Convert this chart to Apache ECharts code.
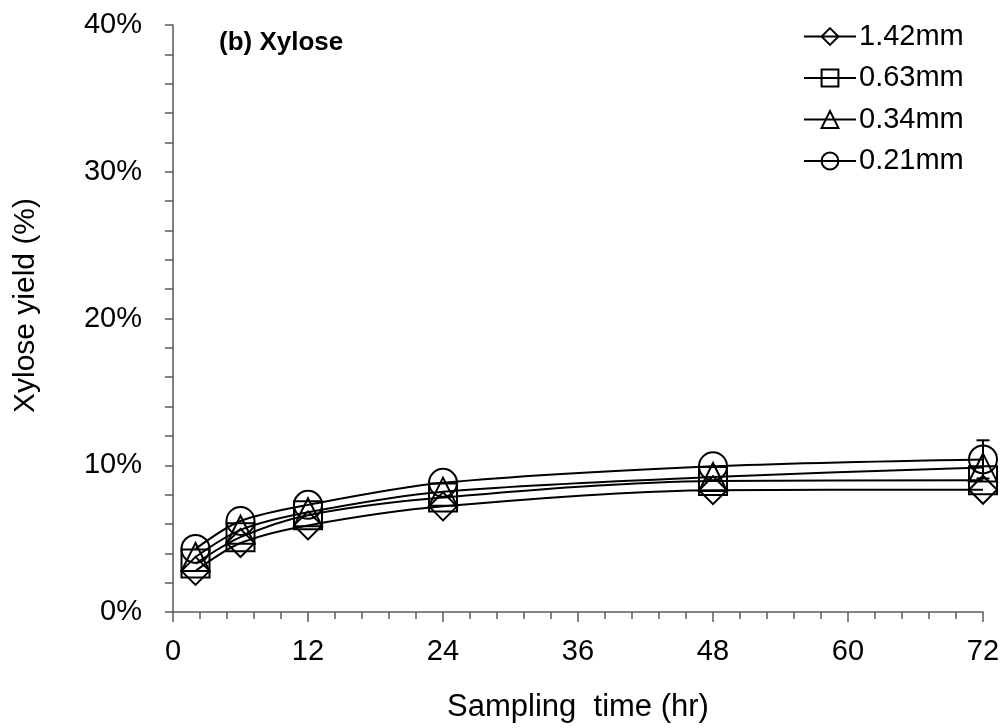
<!DOCTYPE html>
<html>
<head>
<meta charset="utf-8">
<script src="https://cdn.jsdelivr.net/npm/echarts@6/dist/echarts.min.js"></script>
<style>html,body{margin:0;padding:0;background:#fff}#c{width:1003px;height:728px}</style>
</head>
<body>
<div id="c"></div>
<script>
var times = [2, 6, 12, 24, 48, 72];
var names = ['1.42mm', '0.63mm', '0.34mm', '0.21mm'];
var y142 = [2.8, 4.7, 5.9, 7.2, 8.3, 8.33];
var y063 = [3.3, 5.1, 6.6, 7.8, 8.93, 8.97];
var y034 = [3.75, 5.6, 6.8, 8.2, 9.2, 9.84];
var y021 = [4.3, 6.2, 7.3, 8.8, 9.93, 10.4];
var err021 = [0, 0, 0, 0, 0, 1.3];
var symbols = ['diamond', 'rect', 'triangle', 'circle'];
var xTicks = [0, 12, 24, 36, 48, 60, 72];
var yTicks = [0, 10, 20, 30, 40];

var seriesVals = [y142, y063, y034, y021];
var FONT = 'Liberation Sans, Arial, sans-serif';
var chart = echarts.init(document.getElementById('c'));

function pairs(v) { return times.map(function (t, i) { return [t, v[i]]; }); }

var series = seriesVals.map(function (v, k) {
  return {
    name: names[k], type: 'line', data: pairs(v), smooth: 0.3,
    symbol: symbols[k], symbolSize: 28,
    lineStyle: { color: '#000', width: 2 },
    itemStyle: { color: 'rgba(255,255,255,0)', borderColor: '#000', borderWidth: 2 },
    emphasis: { disabled: true }, z: 3 + k
  };
});
series.push({
  type: 'custom', name: 'err', z: 10,
  data: times.map(function (t, i) { return [t, y021[i] - err021[i], y021[i] + err021[i]]; }).filter(function (d, i) { return err021[i] > 0; }),
  renderItem: function (params, api) {
    var lo = api.coord([api.value(0), api.value(1)]);
    var hi = api.coord([api.value(0), api.value(2)]);
    var w = 6.5;
    var st = { stroke: '#000', lineWidth: 2 };
    return { type: 'group', children: [
      { type: 'line', shape: { x1: hi[0], y1: hi[1], x2: lo[0], y2: lo[1] }, style: st },
      { type: 'line', shape: { x1: hi[0] - w, y1: hi[1], x2: hi[0] + w, y2: hi[1] }, style: st },
      { type: 'line', shape: { x1: lo[0] - w, y1: lo[1], x2: lo[0] + w, y2: lo[1] }, style: st }
    ]};
  }
});

chart.setOption({
  animation: false,
  backgroundColor: '#fff',
  title: { text: '(b) Xylose', left: 214, top: 25, textStyle: { fontFamily: FONT, fontSize: 26, fontWeight: 'bold', color: '#000' } },
  legend: {
    data: names, orient: 'vertical', left: 798, top: 17, itemWidth: 52, itemHeight: 21, itemGap: 12.5,
    textStyle: { fontFamily: FONT, fontSize: 29, color: '#000', padding: [0, 0, 0, -2] }
  },
  graphic: [{
    type: 'text',
    rotation: Math.PI / 2,
    x: 26, y: 305.5,
    style: { text: 'Xylose yield (%)', font: '30px ' + FONT, fill: '#000', align: 'center', verticalAlign: 'middle' }
  }],
  grid: { left: 173, right: 20, top: 25, bottom: 115 },
  xAxis: {
    type: 'value', min: 0, max: 72, interval: 12,
    name: 'Sampling  time (hr)', nameLocation: 'middle', nameGap: 80,
    nameTextStyle: { fontFamily: FONT, fontSize: 31, color: '#000' },
    axisLine: { lineStyle: { color: '#595959', width: 1.5 } },
    axisTick: { show: true, length: 10, lineStyle: { color: '#595959', width: 1.5 } },
    minorTick: { show: true, splitNumber: 5, length: 7, lineStyle: { color: '#595959', width: 1.5 } },
    axisLabel: { fontFamily: FONT, fontSize: 29, color: '#000', margin: 25 },
    splitLine: { show: false }
  },
  yAxis: {
    type: 'value', min: 0, max: 40, interval: 10,
    axisLine: { show: true, lineStyle: { color: '#595959', width: 1.5 } },
    axisTick: { show: true, length: 8, lineStyle: { color: '#595959', width: 1.5 } },
    minorTick: { show: true, splitNumber: 5, length: 8, lineStyle: { color: '#595959', width: 1.5 } },
    axisLabel: { fontFamily: FONT, fontSize: 29, color: '#000', margin: 31, formatter: '{value}%' },
    splitLine: { show: false }
  },
  series: series
});
</script>
</body>
</html>
